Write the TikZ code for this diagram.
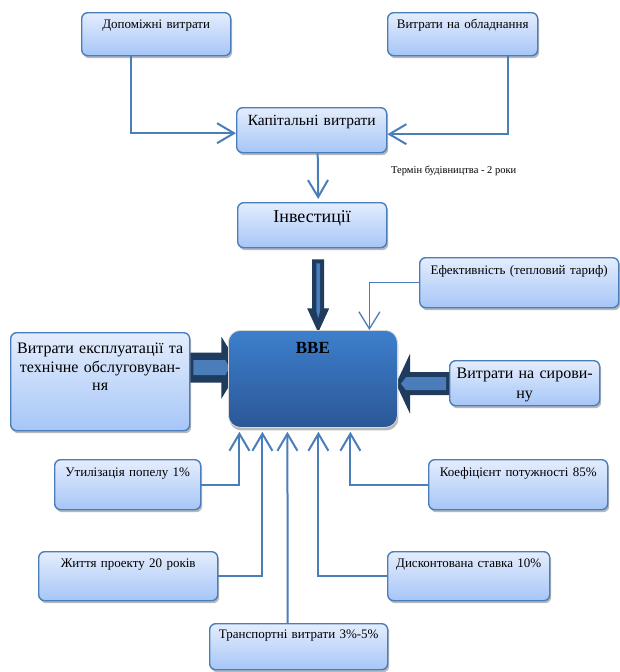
\documentclass[tikz,border=0pt]{standalone}
\usepackage{fontspec}
\setmainfont{Liberation Serif}
\usetikzlibrary{arrows.meta,shadows,calc}
\definecolor{bline}{HTML}{4A7EBB}
\definecolor{btop}{HTML}{E4EDFD}
\definecolor{bbot}{HTML}{A6C6F7}
\definecolor{dnavy}{HTML}{1F3B5E}
\definecolor{mblue}{HTML}{4A7DBA}
\definecolor{vtop}{HTML}{3D7FCD}
\definecolor{vbot}{HTML}{2B5796}
\tikzset{
  lbox/.style={draw=bline, line width=1.4pt, rounded corners=6pt,
    top color=btop, bottom color=bbot,
    drop shadow={shadow xshift=1.5pt, shadow yshift=-2.5pt, fill=black!50, opacity=.55},
    inner xsep=0pt, inner ysep=0pt, align=center, anchor=north west,
    font=\fontsize{13}{15}\selectfont},
  vbox/.style={draw=black!15, line width=0.8pt, rounded corners=12pt,
    top color=vtop, bottom color=vbot,
    drop shadow={shadow xshift=1pt, shadow yshift=-3pt, fill=black!50, opacity=.55},
    inner xsep=0pt, inner ysep=0pt, align=center, anchor=north west,
    font=\fontsize{17}{19}\selectfont\bfseries},
  conn/.style={draw=bline, line width=2pt, -{Straight Barb[length=17pt,width=20pt]}},
  thinconn/.style={draw=bline, line width=1.3pt, -{Straight Barb[length=17pt,width=21pt]}},
  outerarrow/.style={fill=dnavy},
  innerarrow/.style={fill=mblue},
}
\begin{document}
\begin{tikzpicture}[x=1pt,y=-1pt]
\useasboundingbox (0,0) rectangle (619,672);

% top row
\node[lbox, text width=149pt, text height=16pt, text depth=27pt] (dop) at (81,12) {Допоміжні витрати};
\node[lbox, text width=150pt, text height=16pt, text depth=27pt] (obl) at (387,12) {Витрати на обладнання};
\node[lbox, text width=150pt, text height=18pt, text depth=27pt, font=\fontsize{15.5}{17}\selectfont] (kap) at (236,107) {Капітальні витрати};
\node[lbox, text width=149pt, text height=20pt, text depth=25pt, font=\fontsize{18}{20}\selectfont] (inv) at (237,202) {Інвестиції};
\node[anchor=base west, inner sep=0pt, font=\fontsize{10.5}{12}\selectfont] (term) at (391,173) {Термін будівництва - 2 роки};

\draw[conn] ([xshift=-25pt]dop.south) |- ([yshift=-3pt]kap.west);
\draw[conn] ([xshift=45pt]obl.south) |- ([yshift=-4pt]kap.east);
\draw[conn] ([xshift=6pt]kap.south) -- ([xshift=6pt,yshift=3pt]inv.north);

% side boxes
\node[lbox, text width=199pt, text height=17pt, text depth=33pt] (eff) at (419,257) {Ефективність (тепловий тариф)};
\node[lbox, text width=179pt, text height=21pt, text depth=77pt, font=\fontsize{16}{18.5}\selectfont] (exp) at (10,332) {Витрати експлуатації та\\технічне обслуговуван-\\ня};
\node[lbox, text width=150pt, text height=18pt, text depth=27pt, font=\fontsize{16}{20}\selectfont] (syr) at (449,360) {Витрати на сирови-\\ну};

% block arrows
\coordinate (ta) at ([xshift=6pt,yshift=-11pt]inv.south);
\coordinate (la) at ([yshift=14pt]exp.east);
\coordinate (ra) at ([yshift=-0.5pt]syr.west);

% top block arrow
\fill[outerarrow] ($(ta)+(-6,0)$) -- ($(ta)+(6,0)$) -- ($(ta)+(6,49)$) -- ($(ta)+(11,49)$) -- ($(ta)+(0,73)$) -- ($(ta)+(-11,49)$) -- ($(ta)+(-6,49)$) -- cycle;
\fill[innerarrow] ($(ta)+(-1.8,4)$) -- ($(ta)+(1.8,4)$) -- ($(ta)+(1.8,52)$) -- ($(ta)+(0,59)$) -- ($(ta)+(-1.8,52)$) -- cycle;

% left block arrow
\fill[outerarrow] ($(la)+(0,-15)$) -- ($(la)+(31,-15)$) -- ($(la)+(31,-31)$) -- ($(la)+(50,0)$) -- ($(la)+(31,31)$) -- ($(la)+(31,15)$) -- ($(la)+(0,15)$) -- cycle;
\fill[innerarrow] ($(la)+(3,-7.5)$) -- ($(la)+(35,-7.5)$) -- ($(la)+(39,0)$) -- ($(la)+(35,7.5)$) -- ($(la)+(3,7.5)$) -- cycle;

% right block arrow
\fill[outerarrow] ($(ra)+(0,-11.5)$) -- ($(ra)+(-39,-11.5)$) -- ($(ra)+(-39,-30)$) -- ($(ra)+(-53,0)$) -- ($(ra)+(-39,30)$) -- ($(ra)+(-39,11.5)$) -- ($(ra)+(0,11.5)$) -- cycle;
\fill[innerarrow] ($(ra)+(-3,-6.5)$) -- ($(ra)+(-43,-6.5)$) -- ($(ra)+(-48,0)$) -- ($(ra)+(-43,6.5)$) -- ($(ra)+(-3,6.5)$) -- cycle;

% central box
\node[vbox, text width=169pt, text height=23pt, text depth=74pt] (vve) at (228,330) {ВВЕ};

\draw[thinconn] (eff.west) -| ([xshift=56.5pt]vve.north);

% bottom boxes
\node[lbox, text width=146pt, text height=17pt, text depth=33pt] (util) at (54,459) {Утилізація попелу 1\%};
\node[lbox, text width=179pt, text height=17pt, text depth=33pt] (koef) at (428,459) {Коефіцієнт потужності 85\%};
\node[lbox, text width=179pt, text height=16pt, text depth=33pt] (zhyt) at (38,551) {Життя проекту 20 років};
\node[lbox, text width=162pt, text height=16pt, text depth=33pt] (disk) at (387,551) {Дисконтована ставка 10\%};
\node[lbox, text width=178pt, text height=15pt, text depth=31pt] (tran) at (209,623) {Транспортні витрати 3\%-5\%};

\draw[conn] (util.east) -| ([xshift=-73.5pt,yshift=-4pt]vve.south);
\draw[conn] (koef.west) -| ([xshift=37.5pt,yshift=-4pt]vve.south);
\draw[conn] (zhyt.east) -| ([xshift=-50.5pt,yshift=-4pt]vve.south);
\draw[conn] (disk.west) -| ([xshift=5.5pt,yshift=-4pt]vve.south);
\draw[conn] ([xshift=-11pt]tran.north) -- ([xshift=-25.5pt,yshift=-4pt]vve.south);
\end{tikzpicture}
\end{document}
